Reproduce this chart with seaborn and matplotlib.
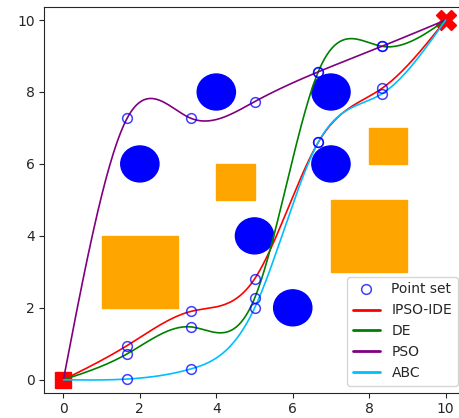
import numpy as np
import pandas as pd
import seaborn as sns
import matplotlib
matplotlib.use("Agg")
import matplotlib.pyplot as plt
from matplotlib.patches import Circle, Rectangle

# waypoints (x shared by all paths)
xs = [0, 1.667, 3.333, 5, 6.667, 8.333, 10]
ipso_y = [0, 0.95, 1.90, 2.80, 6.60, 8.10, 10]
de_y = [0, 0.72, 1.47, 2.26, 8.56, 9.27, 10]
pso_y = [0, 7.27, 7.27, 7.73, 8.56, 9.27, 10]
abc_y = [0, 0.02, 0.30, 1.99, 6.60, 7.95, 10]

# obstacles
circle_x = [2, 4, 7, 7, 5, 6]
circle_y = [6, 8, 8, 6, 4, 2]
circle_r = [0.5, 0.5, 0.5, 0.5, 0.5, 0.5]
rect_x = [1, 4, 7, 8]
rect_y = [2, 5, 3, 6]
rect_w = [2, 1, 2, 1]
rect_h = [2, 1, 2, 1]

start = (0, 0)
goal = (10, 10)


def spline(x, y, num=300):
    # natural cubic spline
    x = np.asarray(x, float)
    y = np.asarray(y, float)
    n = len(x)
    h = np.diff(x)
    A = np.zeros((n, n))
    b = np.zeros(n)
    A[0, 0] = 1
    A[-1, -1] = 1
    for i in range(1, n - 1):
        A[i, i - 1] = h[i - 1]
        A[i, i] = 2 * (h[i - 1] + h[i])
        A[i, i + 1] = h[i]
        b[i] = 6 * ((y[i + 1] - y[i]) / h[i] - (y[i] - y[i - 1]) / h[i - 1])
    M = np.linalg.solve(A, b)
    xx = np.linspace(x[0], x[-1], num)
    idx = np.clip(np.searchsorted(x, xx) - 1, 0, n - 2)
    x0, x1 = x[idx], x[idx + 1]
    hh = x1 - x0
    yy = (M[idx] * (x1 - xx) ** 3 / (6 * hh) + M[idx + 1] * (xx - x0) ** 3 / (6 * hh)
          + (y[idx] / hh - M[idx] * hh / 6) * (x1 - xx)
          + (y[idx + 1] / hh - M[idx + 1] * hh / 6) * (xx - x0))
    return xx, yy


sns.set_style("ticks")
fig = plt.figure(figsize=(4.59, 4.18), dpi=100)
ax = fig.add_axes([0.0965, 0.0605, 0.916, 0.9225])

for cx, cy, r in zip(circle_x, circle_y, circle_r):
    ax.add_patch(Circle((cx, cy), r, color="blue", zorder=1))
for rx, ry, w, hgt in zip(rect_x, rect_y, rect_w, rect_h):
    ax.add_patch(Rectangle((rx, ry), w, hgt, color="orange", zorder=1))

# start / goal under the paths
ax.plot(*start, "rs", ms=12, zorder=2)
ax.plot(*goal, "rX", ms=14, zorder=2)

paths = [("IPSO-IDE", ipso_y, "red"), ("DE", de_y, "green"),
         ("PSO", pso_y, "purple"), ("ABC", abc_y, "deepskyblue")]

pts = pd.DataFrame({"x": xs[1:-1] * 4,
                    "y": ipso_y[1:-1] + de_y[1:-1] + pso_y[1:-1] + abc_y[1:-1]})
ax.plot(pts["x"], pts["y"], "o", mfc="none", mec="blue", mew=1.1, ms=7,
        alpha=0.75, label="Point set", zorder=4)

for name, ys, col in paths:
    xx, yy = spline(xs, ys)
    sns.lineplot(x=xx, y=yy, color=col, lw=1.2, label=name, sort=False,
                 estimator=None, ax=ax, zorder=3)

ax.set_xlim(-0.5, 10.5)
ax.set_ylim(-0.36, 10.36)
ax.set_xticks([0, 2, 4, 6, 8, 10])
ax.set_yticks([0, 2, 4, 6, 8, 10])
leg = ax.legend(loc="lower right", fontsize=10)
for line in leg.get_lines():
    line.set_linewidth(2)

fig.savefig("out.png", dpi=100)
